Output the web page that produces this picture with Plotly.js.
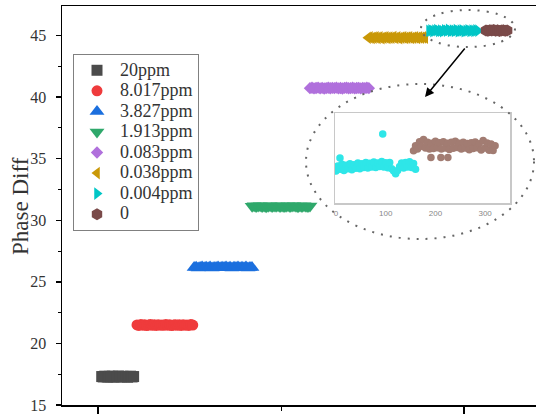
<!DOCTYPE html>
<html>
<head>
<meta charset="utf-8">
<script src="https://cdn.plot.ly/plotly-3.0.1.min.js"></script>
<style>
html,body{margin:0;padding:0;overflow:hidden;background:#fff;}
#chart{width:545px;height:417px;}
</style>
</head>
<body>
<div id="chart"></div>
<script>
// ---- data ----
const seriesNames = ["20ppm","8.017ppm","3.827ppm","1.913ppm","0.083ppm","0.038ppm","0.004ppm","0"];
// sample index where each series starts and index step between stored samples
const seriesStart = [20, 213, 525, 842, 1158, 1475, 1809, 2120];
const seriesStep  = [8.3, 10.5, 10.9, 10.9, 11.1, 10.8, 10.7, 10.5];

const y20ppm = [17.31,17.28,17.34,17.30,17.27,17.33,17.29,17.34,17.27,17.31,17.29,17.35,17.30,17.28,17.33,17.30,17.32,17.26,17.31,17.34,17.28,17.31];
const y8_017ppm = [21.50,21.46,21.53,21.48,21.51,21.45,21.49,21.53,21.47,21.51,21.46,21.52,21.48,21.50,21.47,21.54,21.48,21.51,21.45,21.49,21.52,21.47,21.51,21.46,21.52,21.48,21.50,21.46,21.53,21.49];
const y3_827ppm = [26.16,26.19,26.13,26.17,26.21,26.14,26.18,26.15,26.20,26.12,26.17,26.16,26.20,26.14,26.18,26.17,26.21,26.15,26.18,26.13,26.19,26.16,26.20,26.14,26.18,26.15,26.20,26.13,26.17,26.17];
const y1_913ppm = [31.14,31.17,31.11,31.15,31.18,31.12,31.16,31.10,31.14,31.17,31.12,31.15,31.13,31.18,31.12,31.16,31.11,31.14,31.17,31.12,31.15,31.18,31.13,31.10,31.16,31.12,31.17,31.14,31.11,31.15];
const y0_083ppm = [40.73,40.76,40.71,40.74,40.77,40.71,40.75,40.70,40.73,40.76,40.72,40.75,40.73,40.77,40.71,40.74,40.70,40.75,40.76,40.72,40.73,40.76,40.71,40.74,40.75,40.71,40.75,40.73,40.76,40.73];
const y0_038ppm = [44.82,44.85,44.80,44.84,44.86,44.81,44.85,44.79,44.83,44.86,44.81,44.84,44.82,44.87,44.80,44.85,44.79,44.83,44.85,44.81,44.84,44.86,44.80,44.83,44.85,44.81,44.85,44.82,44.86,44.83];
const y0_004ppm = [45.38,45.42,45.36,45.41,45.44,45.37,45.40,45.35,45.43,45.39,45.46,45.37,45.41,45.38,45.44,45.36,45.40,45.42,45.35,45.39,45.43,45.37,45.41,45.38,45.42,45.40];
const y0ppm = [45.42,45.39,45.44,45.41,45.45,45.40,45.43,45.38,45.42,45.44,45.40,45.42];

// inset (zoom of 0.004ppm and 0): sample index and value
const insetCyanIdx = [0,4,8,12,16,20,24,28,32,36,40,44,48,52,56,60,64,68,72,76,80,84,88,92,96,100,104,108,112,116,120,124,128,132,136,140,144,148,152,156,160,8,94];
const insetCyanVal = [45.342,45.365,45.350,45.372,45.345,45.368,45.352,45.374,45.348,45.370,45.355,45.378,45.352,45.375,45.358,45.380,45.356,45.377,45.360,45.382,45.358,45.378,45.362,45.384,45.360,45.379,45.357,45.380,45.352,45.342,45.330,45.345,45.362,45.378,45.356,45.380,45.360,45.383,45.358,45.376,45.350,45.400,45.507];
const insetBrownIdx = [156,160,164,168,172,176,180,184,188,192,196,200,204,208,212,216,220,224,228,232,236,240,244,248,252,256,260,264,268,272,276,280,284,288,292,296,300,304,308,312,316,320,191,211,225];
const insetBrownVal = [45.432,45.455,45.440,45.472,45.452,45.482,45.445,45.470,45.440,45.466,45.442,45.474,45.446,45.468,45.440,45.472,45.444,45.466,45.438,45.470,45.443,45.474,45.447,45.466,45.440,45.470,45.445,45.464,45.437,45.468,45.442,45.471,45.446,45.463,45.436,45.478,45.444,45.467,45.435,45.462,45.433,45.455,45.402,45.402,45.402];
const insetTicks = [0,100,200,300];
const yTicks = [15,20,25,30,35,40,45];
const yTitle = "Phase Diff";

// ---- styles ----
const seriesY = [y20ppm,y8_017ppm,y3_827ppm,y1_913ppm,y0_083ppm,y0_038ppm,y0_004ppm,y0ppm];
const colors = ["#4b4b4b","#ef3b3c","#1b6fde","#2fa86b","#b070dc","#c99807","#00c6c6","#7a4a49"];
const symbols = ["square","circle","triangle-up","triangle-down","diamond","triangle-left","triangle-right","hexagon"];
const sizes = [11,11,13,13,9.5,11,11,12];

const traces = seriesY.map((ys,k)=>({
  type:"scatter", mode:"markers",
  name:'<span style="font-size:18px">'+seriesNames[k]+'</span>',
  x: ys.map((_,i)=>seriesStart[k]+i*seriesStep[k]), y: ys,
  marker:{color:colors[k], symbol:symbols[k], size:sizes[k], line:{width:0}},
  xaxis:"x", yaxis:"y"
}));
traces.push({type:"scatter",mode:"markers",showlegend:false,x:insetCyanIdx,y:insetCyanVal,
  marker:{color:"#2ee6e8",size:7.5,line:{width:0}},xaxis:"x2",yaxis:"y2",hoverinfo:"skip"});
traces.push({type:"scatter",mode:"markers",showlegend:false,x:insetBrownIdx,y:insetBrownVal,
  marker:{color:"#a27c72",size:7.5,line:{width:0}},xaxis:"x2",yaxis:"y2",hoverinfo:"skip"});

const serif = "Liberation Serif, Times New Roman, serif";
const L=62,R=542,T=6,B=405;
const px=v=>(v-L)/(R-L), py=v=>(B-v)/(B-T);
const dotted = {color:"#666",width:2,dash:"2px,7px"};

const layout = {
  width:545, height:417,
  margin:{l:62,r:3,t:6,b:12},
  paper_bgcolor:"#fff", plot_bgcolor:"#fff",
  showlegend:true,
  font:{family:serif,color:"#333"},
  xaxis:{domain:[0,1],range:[-197,2426],showgrid:false,zeroline:false,showline:true,linecolor:"#000",linewidth:1.5,mirror:true,
    ticks:"outside",tickvals:[0,2000],ticklen:7,tickwidth:1.5,tickcolor:"#000",showticklabels:false,
    minor:{tickvals:[1000],ticks:"outside",ticklen:4,tickwidth:1,tickcolor:"#000"}},
  yaxis:{domain:[0,1],range:[15,47.4],showgrid:false,zeroline:false,showline:true,linecolor:"#000",linewidth:1.5,mirror:true,
    ticks:"outside",tickvals:yTicks,ticklen:5,tickwidth:1.5,tickcolor:"#000",ticklabelstandoff:6,
    tickfont:{family:serif,size:16,color:"#333"},
    minor:{dtick:2.5,tick0:15,ticks:"outside",ticklen:3,tickwidth:1,tickcolor:"#000"}},
  xaxis2:{domain:[px(335),px(510)],anchor:"y2",range:[-2,350],showgrid:false,zeroline:false,showline:true,linecolor:"#c8c8c8",linewidth:1.5,mirror:true,
    ticks:"",tickvals:insetTicks,tickfont:{family:"Liberation Sans, Arial, sans-serif",size:8,color:"#888"},ticklabelstandoff:2},
  yaxis2:{domain:[py(203),py(113)],anchor:"x2",range:[45.20,45.60],showgrid:false,zeroline:false,showline:true,linecolor:"#c8c8c8",linewidth:1.5,mirror:true,
    ticks:"",showticklabels:false},
  legend:{x:px(73),y:py(54),xanchor:"left",yanchor:"top",bgcolor:"#fff",bordercolor:"#808080",borderwidth:1,
    font:{family:serif,size:13.5,color:"#333"},tracegroupgap:0,itemwidth:36},
  shapes:[
    {type:"circle",xref:"paper",yref:"paper",x0:px(421),x1:px(515),y0:py(47),y1:py(10),line:dotted,layer:"above"},
    {type:"circle",xref:"paper",yref:"paper",x0:px(306),x1:px(534),y0:py(239),y1:py(84),line:dotted,layer:"above"}
  ],
  annotations:[
    {xref:"paper",yref:"paper",x:px(425),y:py(97),ax:41,ay:-50,text:"",showarrow:true,arrowhead:2,arrowsize:1.2,arrowwidth:1.5,arrowcolor:"#000"},
    {xref:"paper",yref:"paper",x:px(20),y:py(206),xanchor:"center",yanchor:"middle",textangle:-90,showarrow:false,
     text:yTitle,font:{family:serif,size:23,color:"#333"}}
  ]
};

Plotly.newPlot("chart",traces,layout,{displayModeBar:false,staticPlot:true});
</script>
</body>
</html>
